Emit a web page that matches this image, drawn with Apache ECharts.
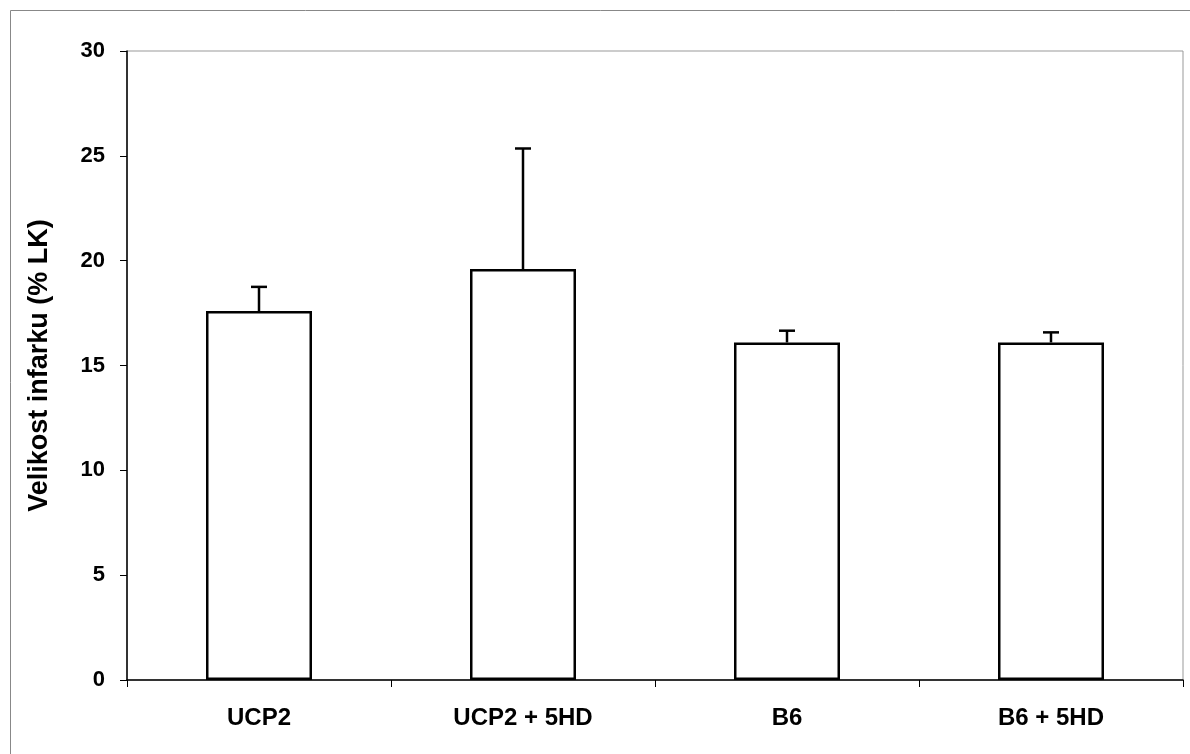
<!DOCTYPE html>
<html>
<head>
<meta charset="utf-8">
<script src="https://cdn.jsdelivr.net/npm/echarts@6/dist/echarts.min.js"></script>
<style>html,body{margin:0;padding:0;background:#fff}#c{width:1190px;height:754px}</style>
</head>
<body>
<div id="c"></div>
<script>
var categories = ['UCP2', 'UCP2 + 5HD', 'B6', 'B6 + 5HD'];
var means = [17.6, 19.6, 16.1, 16.1];
var errors = [1.15, 5.75, 0.56, 0.48];
var yTicks = [0, 5, 10, 15, 20, 25, 30];
var yName = 'Velikost infarku (% LK)';

var chart = echarts.init(document.getElementById('c'));
var font = 'Liberation Sans, Arial, sans-serif';
chart.setOption({
  animation: false,
  backgroundColor: '#fff',
  graphic: [{
    type: 'rect', shape: {x: 10.5, y: 10.5, width: 1300, height: 900},
    style: {fill: 'none', stroke: '#888', lineWidth: 1}, silent: true
  }],
  grid: {left: 127, right: 7, top: 51, bottom: 74, show: true, borderColor: '#999', borderWidth: 1, backgroundColor: 'transparent'},
  xAxis: {
    type: 'category', data: categories,
    axisLine: {lineStyle: {color: '#000', width: 1.5}},
    axisTick: {show: true, length: 7, lineStyle: {color: '#000', width: 1}},
    axisLabel: {color: '#000', fontSize: 24, fontWeight: 'bold', fontFamily: font, margin: 26}
  },
  yAxis: {
    type: 'value', min: yTicks[0], max: yTicks[yTicks.length - 1], interval: 5,
    name: yName, nameLocation: 'middle', nameGap: 74,
    nameTextStyle: {color: '#000', fontSize: 27, fontWeight: 'bold', fontFamily: font},
    axisLine: {show: true, lineStyle: {color: '#000', width: 1.5}},
    axisTick: {show: true, length: 7, lineStyle: {color: '#000', width: 1}},
    splitLine: {show: false},
    axisLabel: {color: '#000', fontSize: 22, fontWeight: 'bold', fontFamily: font, margin: 22}
  },
  series: [{
    type: 'bar', data: means, barWidth: 106,
    itemStyle: {color: '#fff', borderColor: '#000', borderWidth: 2.5},
    z: 2
  }, {
    type: 'custom',
    data: means.map(function (m, i) { return [i, m, m + errors[i]]; }),
    renderItem: function (params, api) {
      var x = api.value(0);
      var p0 = api.coord([x, api.value(1)]);
      var p1 = api.coord([x, api.value(2)]);
      var hw = 8;
      return {
        type: 'group',
        children: [
          {type: 'line', shape: {x1: p0[0], y1: p0[1], x2: p1[0], y2: p1[1]}, style: {stroke: '#000', lineWidth: 2.5}},
          {type: 'line', shape: {x1: p1[0] - hw, y1: p1[1], x2: p1[0] + hw, y2: p1[1]}, style: {stroke: '#000', lineWidth: 2.5}}
        ]
      };
    },
    z: 3
  }]
});
</script>
</body>
</html>
